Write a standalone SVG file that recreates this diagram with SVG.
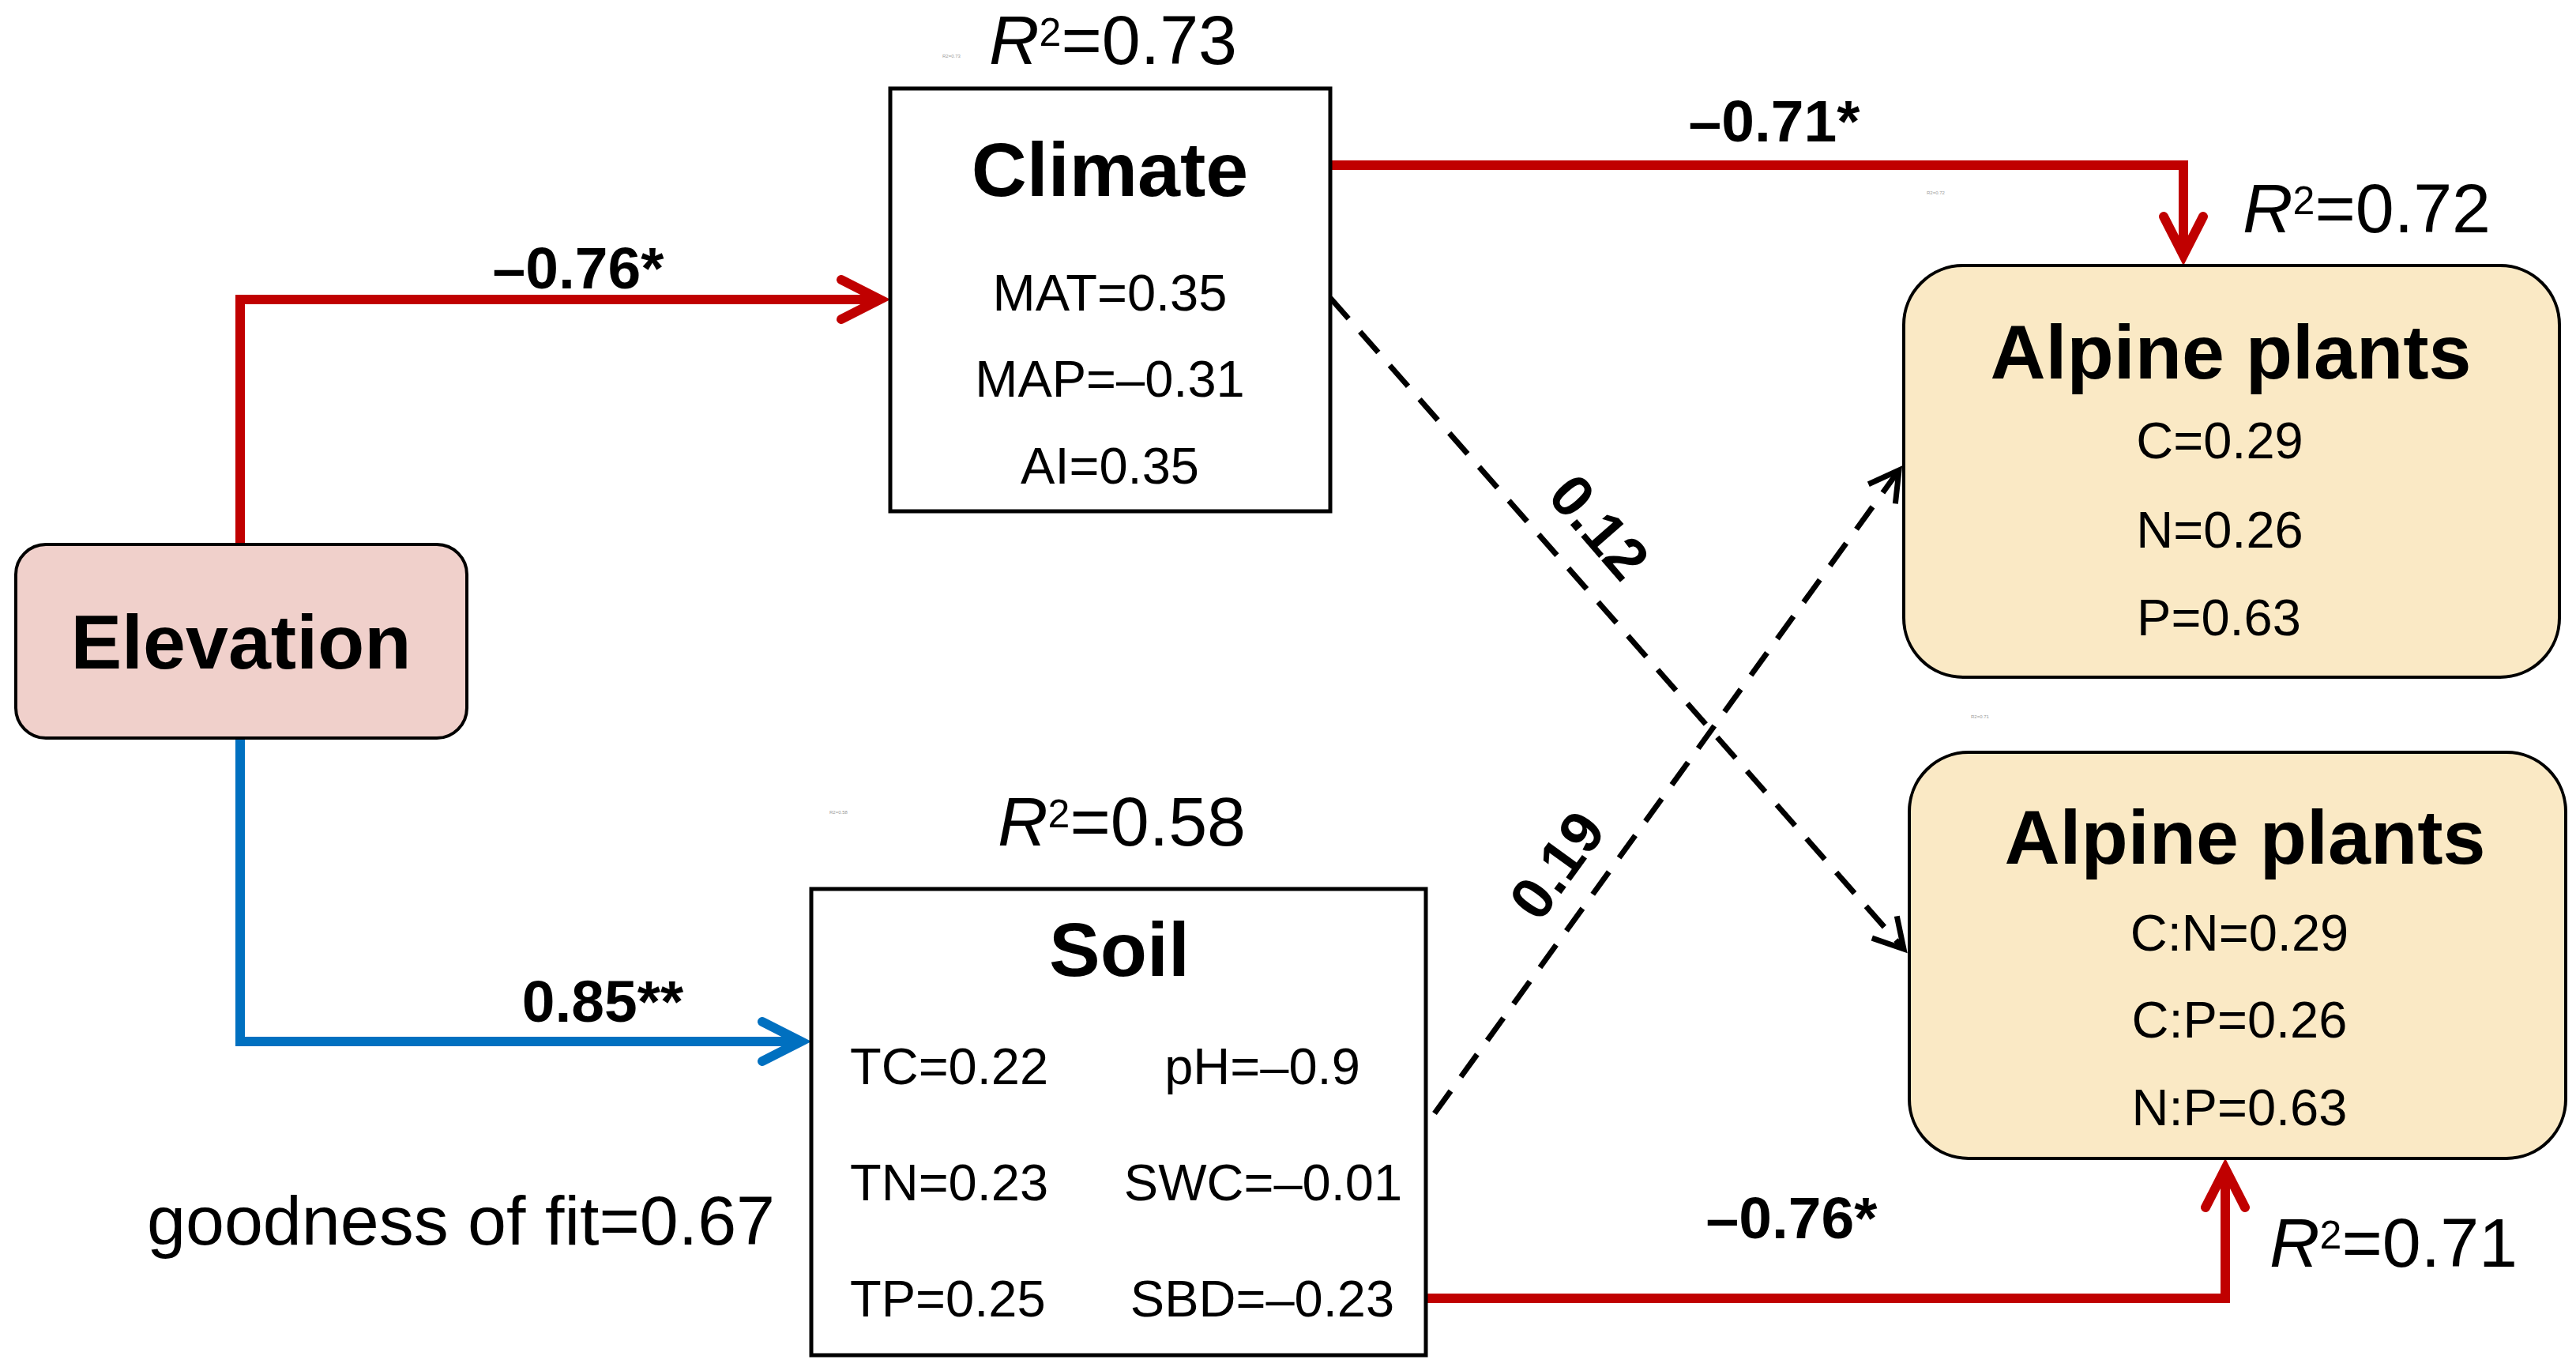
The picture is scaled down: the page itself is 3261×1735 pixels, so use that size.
<svg xmlns="http://www.w3.org/2000/svg" width="3261" height="1735" viewBox="0 0 3261 1735">
  <style>
    text { font-family: "Liberation Sans", Arial, sans-serif; fill: #000; }
    .title { font-size: 97px; font-weight: bold; text-anchor: middle; }
    .item { font-size: 65px; }
    .mid { text-anchor: middle; }
    .r2 { font-size: 88px; }
    .coef { font-size: 75px; font-weight: bold; text-anchor: middle; }
    .box { fill: #fff; stroke: #000; stroke-width: 5; }
    .elev { fill: #F0D0CB; stroke: #000; stroke-width: 4; }
    .plant { fill: #FAE9C5; stroke: #000; stroke-width: 4; }
    .red { fill: none; stroke: #C00000; stroke-width: 12; }
    .blue { fill: none; stroke: #0070C0; stroke-width: 12; }
    .dash { fill: none; stroke: #000; stroke-width: 7; stroke-dasharray: 35 22; }
    .ghost { font-size: 6px; fill: #9a9a9a; }
  </style>
  <defs>
    <marker id="arrRed" markerUnits="userSpaceOnUse" orient="auto" refX="0" refY="0" markerWidth="10" markerHeight="10" overflow="visible">
      <path d="M-49,-25 L0,0 L-49,25" fill="none" stroke="#C00000" stroke-width="12" stroke-linejoin="miter" stroke-linecap="round"/>
    </marker>
    <marker id="arrBlue" markerUnits="userSpaceOnUse" orient="auto" refX="0" refY="0" markerWidth="10" markerHeight="10" overflow="visible">
      <path d="M-49,-25 L0,0 L-49,25" fill="none" stroke="#0070C0" stroke-width="12" stroke-linejoin="miter" stroke-linecap="round"/>
    </marker>
    <marker id="arrDash" markerUnits="userSpaceOnUse" orient="auto" refX="0" refY="0" markerWidth="10" markerHeight="10" overflow="visible">
      <path d="M-37,-21 L0,0 L-37,21" fill="none" stroke="#000" stroke-width="7" stroke-dasharray="none" stroke-linejoin="miter" stroke-linecap="butt"/>
    </marker>
  </defs>

  <rect width="3261" height="1735" fill="#fff"/>

  <g id="connectors">
    <path class="red" d="M304,689 V379 H1114" marker-end="url(#arrRed)"/>
    <path class="red" d="M1684,209 H2764 V323" marker-end="url(#arrRed)"/>
    <path class="blue" d="M304,934 V1318 H1014" marker-end="url(#arrBlue)"/>
    <path class="red" d="M1805,1643 H2817 V1479" marker-end="url(#arrRed)"/>
    <path class="dash" d="M1684,377 L2410,1201" marker-end="url(#arrDash)"/>
    <path class="dash" d="M1816,1409 L2404,595" marker-end="url(#arrDash)"/>
    <text class="coef" x="732" y="365">–0.76*</text>
    <text class="coef" x="2246" y="179">–0.71*</text>
    <text class="coef" x="763" y="1293">0.85**</text>
    <text class="coef" x="2268" y="1567">–0.76*</text>
    <text class="coef" transform="translate(2005,684) rotate(49)" x="0" y="0">0.12</text>
    <text class="coef" transform="translate(1992,1110) rotate(-54)" x="0" y="0">0.19</text>
  </g>

  <g id="elevation">
    <rect class="elev" x="20" y="689" width="571" height="245" rx="38" ry="38"/>
    <text class="title" x="305" y="846">Elevation</text>
  </g>

  <g id="climate">
    <rect class="box" x="1127" y="112" width="557" height="535"/>
    <text class="title" x="1405" y="248">Climate</text>
    <text class="item mid" x="1405" y="393">MAT=0.35</text>
    <text class="item mid" x="1405" y="502">MAP=–0.31</text>
    <text class="item mid" x="1405" y="612">AI=0.35</text>
    <text class="r2" x="1252" y="81"><tspan font-style="italic">R</tspan><tspan font-size="50" dy="-23">2</tspan><tspan dy="23">=0.73</tspan></text>
    <text class="ghost" x="1193" y="73">R2=0.73</text>
  </g>

  <g id="soil">
    <rect class="box" x="1027" y="1125" width="778" height="590"/>
    <text class="title" x="1417" y="1235">Soil</text>
    <text class="item" x="1076" y="1372">TC=0.22</text>
    <text class="item" x="1076" y="1519">TN=0.23</text>
    <text class="item" x="1076" y="1666">TP=0.25</text>
    <text class="item mid" x="1598" y="1372">pH=–0.9</text>
    <text class="item mid" x="1599" y="1519">SWC=–0.01</text>
    <text class="item mid" x="1598" y="1666">SBD=–0.23</text>
    <text class="r2" x="1263" y="1070"><tspan font-style="italic">R</tspan><tspan font-size="50" dy="-23">2</tspan><tspan dy="23">=0.58</tspan></text>
    <text class="ghost" x="1050" y="1030">R2=0.58</text>
  </g>

  <g id="alpine-plants-1">
    <rect class="plant" x="2410" y="336" width="830" height="521" rx="75" ry="75"/>
    <text class="title" x="2824" y="479">Alpine plants</text>
    <text class="item mid" x="2810" y="580">C=0.29</text>
    <text class="item mid" x="2810" y="693">N=0.26</text>
    <text class="item mid" x="2809" y="804">P=0.63</text>
    <text class="r2" x="2839" y="294"><tspan font-style="italic">R</tspan><tspan font-size="50" dy="-23">2</tspan><tspan dy="23">=0.72</tspan></text>
    <text class="ghost" x="2439" y="246">R2=0.72</text>
  </g>

  <g id="alpine-plants-2">
    <rect class="plant" x="2417" y="952" width="831" height="514" rx="75" ry="75"/>
    <text class="title" x="2842" y="1093">Alpine plants</text>
    <text class="item mid" x="2835" y="1203">C:N=0.29</text>
    <text class="item mid" x="2835" y="1313">C:P=0.26</text>
    <text class="item mid" x="2835" y="1424">N:P=0.63</text>
    <text class="r2" x="2873" y="1603"><tspan font-style="italic">R</tspan><tspan font-size="50" dy="-23">2</tspan><tspan dy="23">=0.71</tspan></text>
    <text class="ghost" x="2495" y="909">R2=0.71</text>
  </g>

  <g id="fit">
    <text class="r2" x="186" y="1575">goodness of fit=0.67</text>
  </g>
</svg>
